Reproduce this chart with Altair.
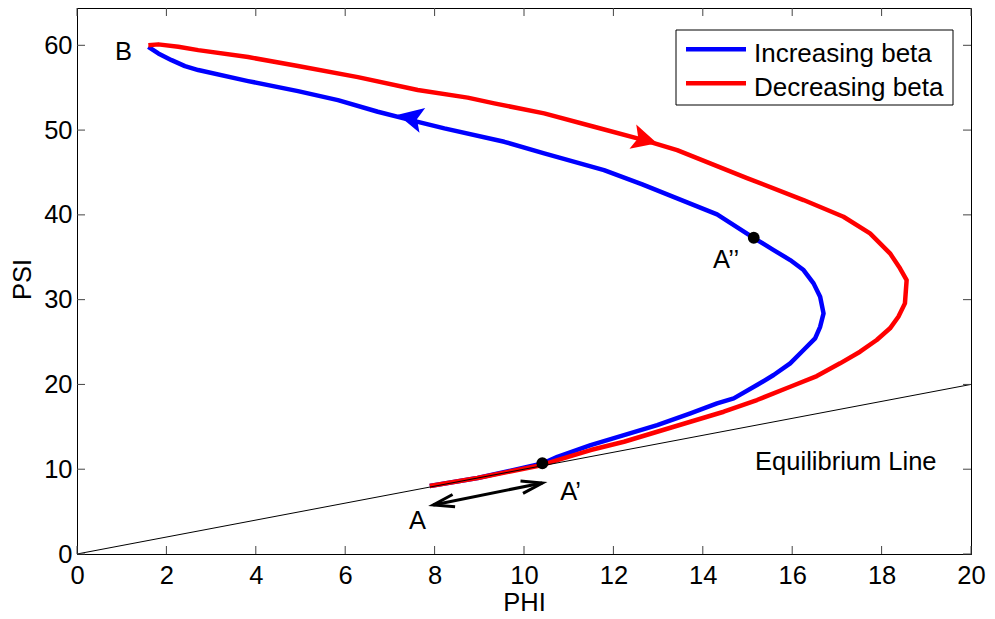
import altair as alt
import pandas as pd

# ---------------- data ----------------
blue_x = [7.891, 8.962, 10.413, 10.748, 11.491, 12.237, 12.980, 13.723, 14.319, 14.692,
          15.212, 15.585, 15.955, 16.254, 16.513, 16.625, 16.701, 16.625, 16.478, 16.254,
          15.955, 15.585, 15.145, 14.319, 13.426, 12.645, 11.790, 10.451, 9.558, 8.219,
          7.467, 6.730, 5.837, 4.944, 3.828, 2.712, 2.415, 2.116, 1.819, 1.596]
blue_y = [8.02, 8.96, 10.67, 11.47, 12.85, 14.03, 15.21, 16.59, 17.77, 18.36,
          19.93, 21.11, 22.49, 24.06, 25.44, 26.80, 28.38, 30.34, 31.92, 33.49,
          34.67, 35.85, 37.26, 40.05, 41.95, 43.60, 45.28, 47.25, 48.62, 50.20,
          51.18, 52.16, 53.54, 54.60, 55.78, 57.08, 57.55, 58.25, 59.04, 59.82]

red_x = [1.596, 1.819, 2.266, 2.712, 3.828, 4.944, 6.283, 7.623, 8.739, 9.335,
         10.451, 11.567, 12.683, 13.426, 14.989, 16.254, 17.147, 17.741, 18.188, 18.411,
         18.560, 18.522, 18.375, 18.188, 17.891, 17.518, 17.071, 16.551, 15.955, 15.212,
         14.469, 13.723, 12.980, 12.237, 11.491, 10.748, 10.413, 8.962, 7.891]
red_y = [60.02, 60.11, 59.82, 59.43, 58.61, 57.55, 56.25, 54.72, 53.83, 53.15,
         51.97, 50.39, 48.82, 47.64, 44.34, 41.75, 39.78, 37.82, 35.46, 33.69,
         32.31, 29.56, 27.98, 26.62, 25.24, 23.86, 22.49, 20.99, 19.73, 18.16,
         16.78, 15.60, 14.42, 13.24, 12.26, 11.08, 10.50, 8.96, 8.02]

eq_x = [0, 20]
eq_y = [0, 20]

dot_x = [10.41, 15.14]
dot_y = [10.70, 37.30]

# direction arrowheads on the curves
blue_arrow = {"x": 7.482, "y": 51.44, "angle": 193}
red_arrow = {"x": 12.677, "y": 48.88, "angle": 15.6}

# double-headed arrow A <-> A'
dbl_x = [7.97, 10.41]
dbl_y = [5.79, 8.38]
dbl_angles = [168.4, 348.4]

center_labels = ["B", "A"]
center_x = [1.04, 7.62]
center_y = [58.25, 2.95]

left_labels = ["A\u2019", "A\u2019\u2019", "Equilibrium Line"]
left_x = [10.81, 14.23, 15.17]
left_y = [6.37, 33.70, 9.90]

series_names = ["Increasing beta", "Decreasing beta"]
series_colors = ["#0000ff", "#ff0000"]

x_ticks = [0, 2, 4, 6, 8, 10, 12, 14, 16, 18, 20]
y_ticks = [0, 10, 20, 30, 40, 50, 60]

# ---------------- layout ----------------
W, H = 894, 546
FONT = "Liberation Sans"
FS = 25.5

xs = alt.Scale(domain=[0, 20], nice=False, zero=False)
ys = alt.Scale(domain=[0, 64.4], nice=False, zero=False)

x_axis = alt.Axis(values=x_ticks, title="PHI", ticks=False, tickSize=0, labelPadding=9,
                  labelFlush=False, labelOverlap=False, grid=False, domainColor="black",
                  domainWidth=1, labelColor="black", labelFontSize=FS, labelFont=FONT,
                  titleFont=FONT, titleFontSize=FS, titleFontWeight="normal",
                  titleColor="black", titleY=56, titleBaseline="alphabetic", format="d")
y_axis = alt.Axis(values=y_ticks, title="PSI", ticks=False, tickSize=0, labelPadding=5,
                  labelFlush=False, labelOverlap=False, grid=False, domainColor="black",
                  domainWidth=1, labelColor="black", labelFontSize=FS, labelFont=FONT,
                  titleFont=FONT, titleFontSize=FS, titleFontWeight="normal",
                  titleColor="black", titleX=-47, titleY=271, titleBaseline="alphabetic",
                  format="d")


def X(f):
    return alt.X(f, type="quantitative", scale=xs, axis=x_axis)


def Y(f):
    return alt.Y(f, type="quantitative", scale=ys, axis=y_axis)


blue_df = pd.DataFrame({"x": blue_x, "y": blue_y, "i": range(len(blue_x))})
red_df = pd.DataFrame({"x": red_x, "y": red_y, "i": range(len(red_x))})
eq_df = pd.DataFrame({"x": eq_x, "y": eq_y})
dot_df = pd.DataFrame({"x": dot_x, "y": dot_y})
dbl_df = pd.DataFrame({"x": dbl_x, "y": dbl_y})
cl_df = pd.DataFrame({"x": center_x, "y": center_y, "t": center_labels})
ll_df = pd.DataFrame({"x": left_x, "y": left_y, "t": left_labels})
one = pd.DataFrame({"a": [0]})

layers = []

blue_line = alt.Chart(blue_df).mark_line(color=series_colors[0], strokeWidth=4.5,
                                         strokeJoin="round").encode(
    x=X("x"), y=Y("y"), order=alt.Order("i:Q"))
red_line = alt.Chart(red_df).mark_line(color=series_colors[1], strokeWidth=4.5,
                                       strokeJoin="round").encode(
    x=X("x"), y=Y("y"), order=alt.Order("i:Q"))
eq_line = alt.Chart(eq_df).mark_line(color="black", strokeWidth=1).encode(x=X("x"), y=Y("y"))
layers += [blue_line, red_line, eq_line]

dots = alt.Chart(dot_df).mark_point(filled=True, color="black", size=140, opacity=1,
                                    shape="circle").encode(x=X("x"), y=Y("y"))
layers.append(dots)

ARROW = "M1,0 L-0.8,-0.9 L-0.4,0 L-0.8,0.9 Z"
for a, c in [(blue_arrow, series_colors[0]), (red_arrow, series_colors[1])]:
    adf = pd.DataFrame({"x": [a["x"]], "y": [a["y"]]})
    layers.append(alt.Chart(adf).mark_point(shape=ARROW, filled=True, color=c, opacity=1,
                                            size=784, angle=a["angle"], strokeWidth=0)
                  .encode(x=X("x"), y=Y("y")))

# double arrow
layers.append(alt.Chart(dbl_df).mark_line(color="black", strokeWidth=3).encode(x=X("x"), y=Y("y")))
CHEV = "M-1,-0.3 L0,0 L-1,0.3"
for k in range(2):
    cdf = pd.DataFrame({"x": [dbl_x[k]], "y": [dbl_y[k]]})
    layers.append(alt.Chart(cdf).mark_point(shape=CHEV, filled=False, color="black", opacity=1,
                                            size=1764, angle=dbl_angles[k], strokeWidth=3,
                                            strokeJoin="miter")
                  .encode(x=X("x"), y=Y("y")))

# annotation text
layers.append(alt.Chart(cl_df).mark_text(font=FONT, fontSize=FS, color="black", align="center",
                                         baseline="alphabetic").encode(x=X("x"), y=Y("y"), text="t:N"))
layers.append(alt.Chart(ll_df).mark_text(font=FONT, fontSize=FS, color="black", align="left",
                                         baseline="alphabetic").encode(x=X("x"), y=Y("y"), text="t:N"))

# inward ticks on all four sides
TL = 8
xt_df = pd.DataFrame({"t": x_ticks})
yt_df = pd.DataFrame({"t": y_ticks})
TC = "#444444"
layers.append(alt.Chart(xt_df).mark_rule(color=TC, strokeWidth=1).encode(
    x=X("t"), y=alt.value(H), y2=alt.value(H - TL)))
layers.append(alt.Chart(xt_df).mark_rule(color=TC, strokeWidth=1).encode(
    x=X("t"), y=alt.value(0), y2=alt.value(TL)))
layers.append(alt.Chart(yt_df).mark_rule(color=TC, strokeWidth=1).encode(
    y=Y("t"), x=alt.value(0), x2=alt.value(TL)))
layers.append(alt.Chart(yt_df).mark_rule(color=TC, strokeWidth=1).encode(
    y=Y("t"), x=alt.value(W - TL), x2=alt.value(W)))

# legend (drawn by hand, MATLAB style)
LX0, LX1, LY0, LY1 = 599, 876, 22, 97
layers.append(alt.Chart(one).mark_rect(fill="white", stroke="black", strokeWidth=1).encode(
    x=alt.value(LX0), x2=alt.value(LX1), y=alt.value(LY0), y2=alt.value(LY1)))
for k, (name, col) in enumerate(zip(series_names, series_colors)):
    ly = 41.3 + 34 * k
    layers.append(alt.Chart(one).mark_rule(color=col, strokeWidth=4.5).encode(
        x=alt.value(LX0 + 10), x2=alt.value(LX0 + 70), y=alt.value(ly)))
    layers.append(alt.Chart(one).mark_text(font=FONT, fontSize=26, color="black", align="left",
                                           baseline="alphabetic", text=name).encode(
        x=alt.value(LX0 + 78), y=alt.value(ly + 12.5)))

chart = alt.layer(*layers).properties(
    width=W, height=H,
    padding={"left": 69, "top": 0, "right": 16, "bottom": 60},
    autosize=alt.AutoSizeParams(type="none"),
    background="white",
).configure_view(stroke="black", strokeWidth=1)

chart.save("out.html", embed_options={"renderer": "svg", "actions": False})
